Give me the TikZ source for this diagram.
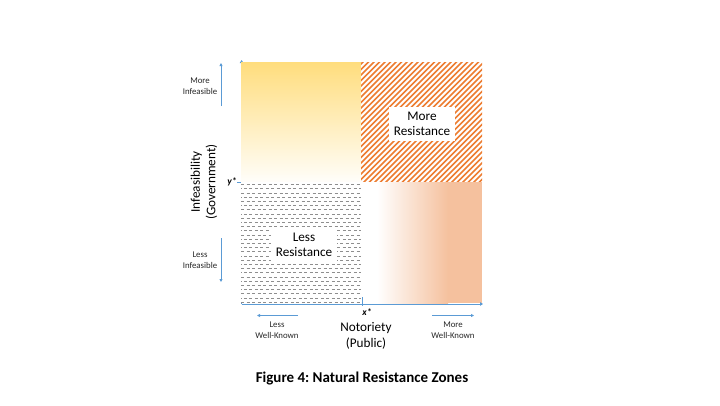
\documentclass[tikz,border=0pt]{standalone}
\usepackage{fontspec}
\setmainfont{Carlito}
\usetikzlibrary{arrows.meta,positioning,calc}
\definecolor{axiscol}{HTML}{5B9BD5}
\definecolor{goldcol}{HTML}{FFDD7D}
\definecolor{stripecol}{HTML}{ED7D31}
\definecolor{peachcol}{HTML}{F5C19E}
\definecolor{dashcol}{HTML}{8E8E8E}
\frenchspacing

\begin{document}
\begin{tikzpicture}[x=1pt, y=-1pt,
  axis/.style={draw=axiscol, line width=1pt, -{Triangle[length=3pt,width=3.5pt]}},
  hint/.style={draw=axiscol, line width=0.8pt, -{Triangle[length=3pt,width=3pt]}},
  small/.style={font=\fontsize{8.8}{10.5}\selectfont, align=center, text=black!85},
  lbl/.style={font=\fontsize{13.2}{15.5}\selectfont, align=center},
  zone/.style={fill=white, inner sep=5pt, font=\fontsize{13.2}{15.5}\selectfont, align=center},
  star/.style={font=\fontsize{9.5}{10}\selectfont\bfseries\itshape, inner sep=1pt}
]
  \useasboundingbox (0,0) rectangle (720,405);

  % axes (y axis sits under the zones)
  \coordinate (O) at (241.6,304);
  \coordinate (ytop) at (241.6,60);
  \coordinate (xend) at (483,304);
  \draw[axis] (O) -- (ytop);

  % zones
  \shade[top color=goldcol, bottom color=goldcol!4] (241,62) rectangle (361,182);
  \fill[white] (361,62) rectangle (482,182);
  \begin{scope}
    \clip (361,62) rectangle (482,182);
    \foreach \k in {230,235.5,...,490}
      \draw[stripecol, line width=1.6pt] (\k,184) -- ++(125,-125);
  \end{scope}
  \fill[white] (241,182) rectangle (361,303);
  \begin{scope}
    \clip (241,182) rectangle (361,303);
    \foreach \r in {0,...,28}{
      \pgfmathsetmacro{\ph}{mod(\r,2)*2.75}
      \draw[dashcol, line width=0.5pt, dash pattern=on 3pt off 2.5pt, dash phase=\ph pt]
        (241,184.5+\r*4.2) -- (361,184.5+\r*4.2);
    }
  \end{scope}
  \fill[white] (361,182) rectangle (377,303);
  \shade[left color=white, right color=peachcol] (377,182) rectangle (448,303);
  \fill[peachcol] (448,182) rectangle (482,303);

  \node[zone] (more) at (422,124) {More\\Resistance};
  \node[zone] (less) at (304,245) {Less\\Resistance};

  % x axis and ticks
  \draw[axis] (O) -- (xend);
  \coordinate (ytick) at (237,182.5);
  \coordinate (ytick2) at (241,182.5);
  \draw[axiscol, line width=1pt] (ytick) -- (ytick2);
  \coordinate (xtick) at (362,297);
  \coordinate (xtick2) at (362,306);
  \draw[axiscol, line width=1pt] (xtick) -- (xtick2);
  \node[star] (ystar) at (232,182) {y*};
  \node[star] (xstar) at (367,312) {x*};

  % axis labels
  \node[lbl, rotate=90] (ylab) at (204,182) {Infeasibility\\(Government)};
  \node[lbl] (xlab) at (366,336) {Notoriety\\(Public)};

  % direction hints
  \node[small] (moreinf) at (200,86) {More\\Infeasible};
  \node[small] (lessinf) at (200,260) {Less\\Infeasible};
  \node[small] (lesswk) at (277,330) {Less\\Well-Known};
  \node[small] (morewk) at (453,330) {More\\Well-Known};
  \coordinate (a1) at (221,106);
  \coordinate (a2) at (221,63);
  \coordinate (b1) at (221,238);
  \coordinate (b2) at (221,282);
  \coordinate (c1) at (298,315.5);
  \coordinate (c2) at (257,315.5);
  \coordinate (d1) at (432,315.5);
  \coordinate (d2) at (474,315.5);
  \draw[hint] (a1) -- (a2);
  \draw[hint] (b1) -- (b2);
  \draw[hint] (c1) -- (c2);
  \draw[hint] (d1) -- (d2);

  % caption
  \node[font=\fontsize{15}{18}\selectfont\bfseries] (cap) at (362,378)
    {Figure 4: Natural Resistance Zones};
\end{tikzpicture}
\end{document}
